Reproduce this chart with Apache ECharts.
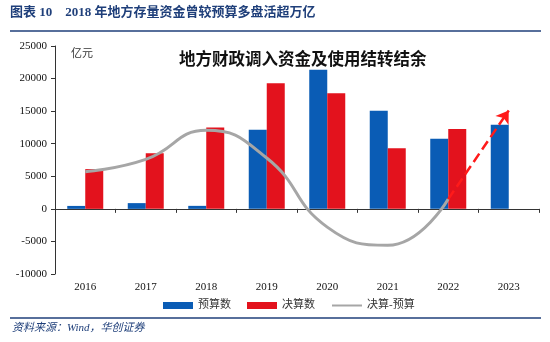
<!DOCTYPE html>
<html><head><meta charset="utf-8">
<script src="https://cdn.jsdelivr.net/npm/echarts@6/dist/echarts.min.js"></script>
<style>html,body{margin:0;padding:0;background:#fff}#c{width:550px;height:342px}</style>
</head><body><div id="c"></div>
<script>
const categories = ['2016','2017','2018','2019','2020','2021','2022','2023'];
const budget = [450, 880, 460, 12150, 21350, 15050, 10750, 12900];
const finalAccount = [6100, 8550, 12500, 19300, 17750, 9300, 12250, null];
const diff = [5700, 7600, 12050, 7800, -2800, -5600, 1500, null];
const arrowFrom = ['2022', 1500];
const arrowTo = ['2023', 15100];
const yTicks = {min: -10000, max: 25000, interval: 5000};

const serif = "'Liberation Serif','Noto Sans CJK SC',serif";
const chart = echarts.init(document.getElementById('c'));
chart.setOption({
  animation: false,
  title: {
    text: '地方财政调入资金及使用结转结余',
    left: 174, top: 47,
    textStyle: {fontFamily: serif, fontSize: 16.5, fontWeight: 'bold', color: '#111'}
  },
  graphic: [
    {type: 'text', left: 10, top: 6, style: {text: '图表 10    2018 年地方存量资金曾较预算多盘活超万亿', fontFamily: serif, fontSize: 13, fontWeight: 'bold', fill: '#1f3f7a'}},
    {type: 'line', shape: {x1: 10, y1: 31, x2: 541, y2: 31}, style: {stroke: '#1f3f7a', lineWidth: 1.5}},
    {type: 'line', shape: {x1: 10, y1: 318, x2: 541, y2: 318}, style: {stroke: '#1f3f7a', lineWidth: 1.5}},
    {type: 'text', left: 12, top: 323, style: {text: '资料来源：Wind，华创证券', fontFamily: serif, fontSize: 11, fontStyle: 'italic', fill: '#1f3f7a'}},
    {type: 'text', left: 71, top: 49, style: {text: '亿元', fontFamily: serif, fontSize: 11, fill: '#333'}}
  ],
  legend: {
    top: 295, left: 158, itemWidth: 30, itemHeight: 7, itemGap: 16,
    textStyle: {fontFamily: serif, fontSize: 11, color: '#333'},
    data: [
      {name: '预算数', icon: 'rect'},
      {name: '决算数', icon: 'rect'},
      {name: '决算-预算', itemStyle: {opacity: 0}}
    ]
  },
  grid: {left: 55, right: 11, top: 46, bottom: 68},
  xAxis: {
    type: 'category', data: categories,
    axisLine: {onZero: true, lineStyle: {color: '#333', width: 1}},
    axisTick: {show: true, length: 4, lineStyle: {color: '#333'}},
    axisLabel: {fontFamily: serif, fontSize: 11, color: '#111', margin: 8}
  },
  yAxis: {
    type: 'value', min: yTicks.min, max: yTicks.max, interval: yTicks.interval,
    splitLine: {show: false},
    axisLine: {show: true, lineStyle: {color: '#333', width: 1}},
    axisTick: {show: true, length: 4, lineStyle: {color: '#333'}},
    axisLabel: {fontFamily: serif, fontSize: 11, color: '#111', margin: 8,
                formatter: function (v) { return String(v); }}
  },
  series: [
    {name: '预算数', type: 'bar', data: budget, barWidth: 18, barGap: '0%',
     itemStyle: {color: '#0a5cb5'}},
    {name: '决算数', type: 'bar', data: finalAccount, barWidth: 18,
     itemStyle: {color: '#e3121d'}},
    {name: '决算-预算', type: 'line', data: diff, smooth: 0.5, symbol: 'none',
     lineStyle: {color: '#a6a6a6', width: 3}, itemStyle: {color: '#a6a6a6'},
     markLine: {
       silent: true, symbol: ['none', 'arrow'], symbolSize: 12, label: {show: false},
       lineStyle: {color: '#ff1a1a', type: 'dashed', width: 2.5},
       data: [[{coord: arrowFrom}, {coord: arrowTo}]]
     }}
  ]
});
</script></body></html>
